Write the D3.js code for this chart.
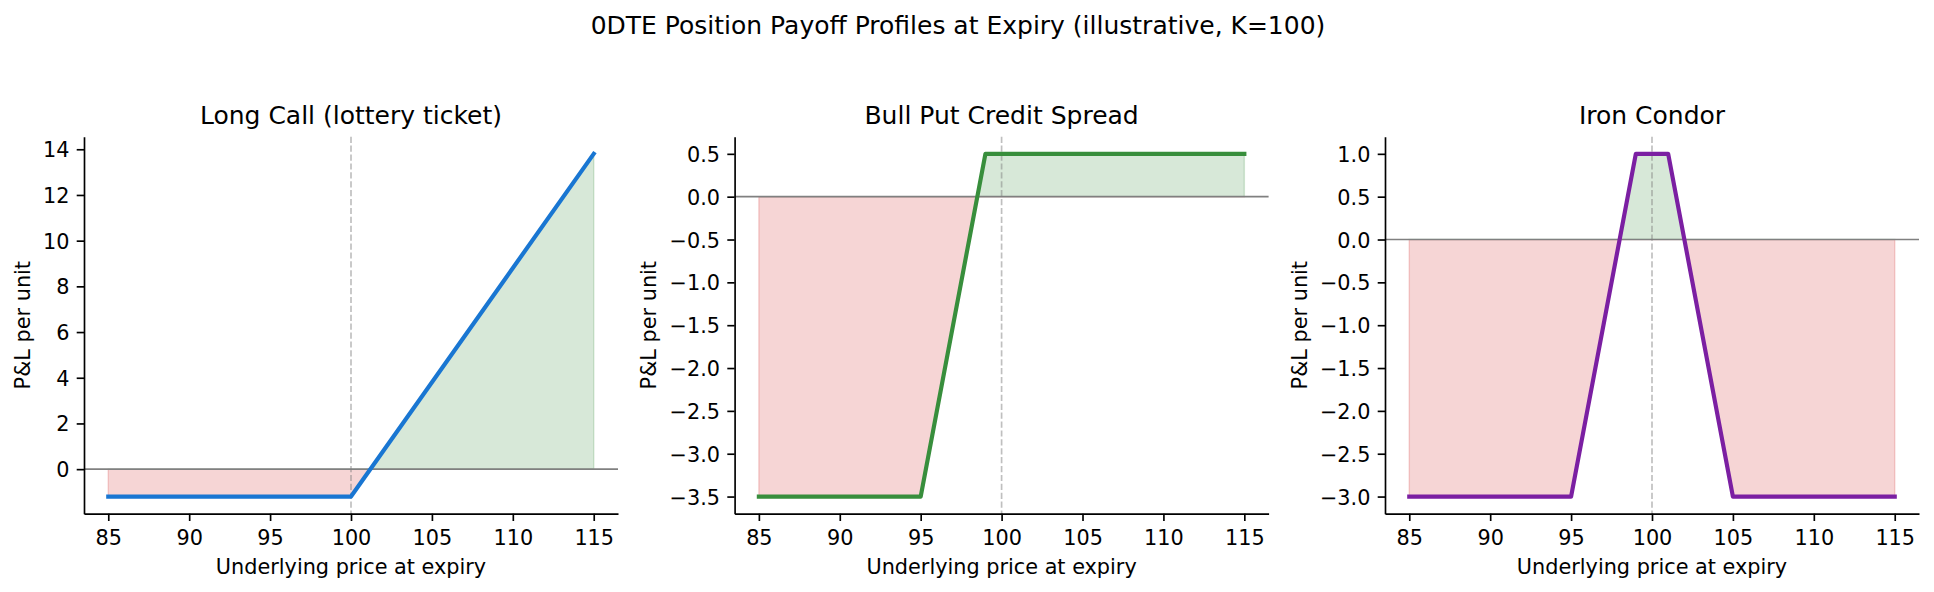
<!DOCTYPE html>
<html>
<head>
<meta charset="utf-8">
<script src="https://cdn.jsdelivr.net/npm/d3@7"></script>
<style>
  body { margin: 0; background: #fff; }
  text { font-family: "DejaVu Sans", sans-serif; fill: #000; }
</style>
</head>
<body>
<div id="chart"></div>
<script>
// ---- data (breakpoints of each payoff at expiry) ----
const strike = 100
const priceTicks = [85, 90, 95, 100, 105, 110, 115]

const longCallPrice = [85, 100, 115]
const longCallPnl = [-1.2, -1.2, 13.8]

const bullPutPrice = [85, 95, 99, 115]
const bullPutPnl = [-3.5, -3.5, 0.5, 0.5]

const condorPrice = [85, 95, 99, 101, 105, 115]
const condorPnl = [-3.0, -3.0, 1.0, 1.0, -3.0, -3.0]

const panelTitles = ["Long Call (lottery ticket)", "Bull Put Credit Spread", "Iron Condor"]
const lineColors = ["#1976d2", "#388e3c", "#7b1fa2"]
const yTicksList = [
    [0, 2, 4, 6, 8, 10, 12, 14],
    [-3.5, -3.0, -2.5, -2.0, -1.5, -1.0, -0.5, 0.0, 0.5],
    [-3.0, -2.5, -2.0, -1.5, -1.0, -0.5, 0.0, 0.5, 1.0]
]
const yFormats = [d3.format("d"), d3.format(".1f"), d3.format(".1f")]

const panels = [
    {x: longCallPrice, y: longCallPnl},
    {x: bullPutPrice, y: bullPutPnl},
    {x: condorPrice, y: condorPnl}
]

// ---- layout ----
const W = 1934, H = 592
const lefts = [84, 734.6, 1385]
const axW = 534, axTop = 136.7, axH = 377
const tickLen = 7.3, tickPad = 7.3
const profitColor = "#388e3c", lossColor = "#d32f2f"

const svg = d3.select("#chart").append("svg")
    .attr("width", W).attr("height", H)
svg.append("rect").attr("width", W).attr("height", H).attr("fill", "#fff")

svg.append("text")
    .attr("x", 958).attr("y", 33.5)
    .attr("text-anchor", "middle")
    .attr("font-size", 25)
    .text("0DTE Position Payoff Profiles at Expiry (illustrative, K=100)")

panels.forEach((p, i) => {
    let left = lefts[i]
    let bottom = axTop + axH
    // matplotlib-style 5% margins
    let xmin = d3.min(p.x), xmax = d3.max(p.x)
    let ymin = d3.min(p.y), ymax = d3.max(p.y)
    let xm = (xmax - xmin) * 0.05, ym = (ymax - ymin) * 0.05
    let x = d3.scaleLinear().domain([xmin - xm, xmax + xm]).range([left, left + axW])
    let y = d3.scaleLinear().domain([ymin - ym, ymax + ym]).range([bottom, axTop])

    let pts = p.x.map((v, k) => ({x: v, y: p.y[k]}))
    let g = svg.append("g")

    // clip regions above / below zero
    let clipUp = "clipUp" + i, clipDn = "clipDn" + i
    let defs = svg.append("defs")
    defs.append("clipPath").attr("id", clipUp).append("rect")
        .attr("x", left).attr("y", axTop).attr("width", axW).attr("height", y(0) - axTop)
    defs.append("clipPath").attr("id", clipDn).append("rect")
        .attr("x", left).attr("y", y(0)).attr("width", axW).attr("height", bottom - y(0))

    let area = d3.area().x(d => x(d.x)).y0(y(0)).y1(d => y(d.y))
    g.append("path").datum(pts)
        .attr("d", area)
        .attr("clip-path", `url(#${clipUp})`)
        .attr("fill", profitColor).attr("fill-opacity", 0.2)
        .attr("stroke", profitColor).attr("stroke-opacity", 0.2).attr("stroke-width", 1.5)
    g.append("path").datum(pts)
        .attr("d", area)
        .attr("clip-path", `url(#${clipDn})`)
        .attr("fill", lossColor).attr("fill-opacity", 0.2)
        .attr("stroke", lossColor).attr("stroke-opacity", 0.2).attr("stroke-width", 1.5)

    // zero line and strike marker
    g.append("line")
        .attr("x1", left).attr("x2", left + axW)
        .attr("y1", y(0)).attr("y2", y(0))
        .attr("stroke", "#808080").attr("stroke-width", 1.67)
    g.append("line")
        .attr("x1", x(strike)).attr("x2", x(strike))
        .attr("y1", axTop).attr("y2", bottom)
        .attr("stroke", "#808080").attr("stroke-opacity", 0.5)
        .attr("stroke-width", 1.67).attr("stroke-dasharray", "6.2,2.7")

    // payoff line
    let line = d3.line().x(d => x(d.x)).y(d => y(d.y))
    g.append("path").datum(pts)
        .attr("d", line)
        .attr("fill", "none")
        .attr("stroke", lineColors[i])
        .attr("stroke-width", 4.17)
        .attr("stroke-linejoin", "round")
        .attr("stroke-linecap", "square")

    // axes
    let xAxis = d3.axisBottom(x).tickValues(priceTicks).tickFormat(d3.format("d"))
        .tickSizeInner(tickLen).tickSizeOuter(0).tickPadding(tickPad)
    let gx = svg.append("g").attr("transform", `translate(0,${bottom})`).call(xAxis)
    let yAxis = d3.axisLeft(y).tickValues(yTicksList[i]).tickFormat(yFormats[i])
        .tickSizeInner(tickLen).tickSizeOuter(0).tickPadding(tickPad)
    let gy = svg.append("g").attr("transform", `translate(${left},0)`).call(yAxis)
    ;[gx, gy].forEach(a => {
        a.attr("font-family", null).attr("font-size", null)
        a.select(".domain").attr("stroke", "#000").attr("stroke-width", 1.67)
        a.selectAll(".tick line").attr("stroke", "#000").attr("stroke-width", 1.67)
        a.selectAll(".tick text").attr("font-size", 20.8).attr("fill", "#000")
    })
    gx.selectAll(".tick text").attr("dy", null).attr("y", 545 - bottom)
    gy.selectAll(".tick text").attr("dy", "0.36em")

    // labels
    g.append("text")
        .attr("x", left + axW / 2).attr("y", 123.5)
        .attr("text-anchor", "middle").attr("font-size", 25)
        .text(panelTitles[i])
    svg.append("text")
        .attr("x", left + axW / 2).attr("y", 573.5)
        .attr("text-anchor", "middle").attr("font-size", 20.8)
        .text("Underlying price at expiry")
    let tickLeft = d3.min(gy.selectAll(".tick text").nodes(), n => n.getBBox().x) + left
    let lx = tickLeft - 8.3 - 4.9
    svg.append("text")
        .attr("transform", `translate(${lx},${axTop + axH / 2}) rotate(-90)`)
        .attr("text-anchor", "middle").attr("font-size", 20.8)
        .text("P&L per unit")
})
</script>
</body>
</html>
